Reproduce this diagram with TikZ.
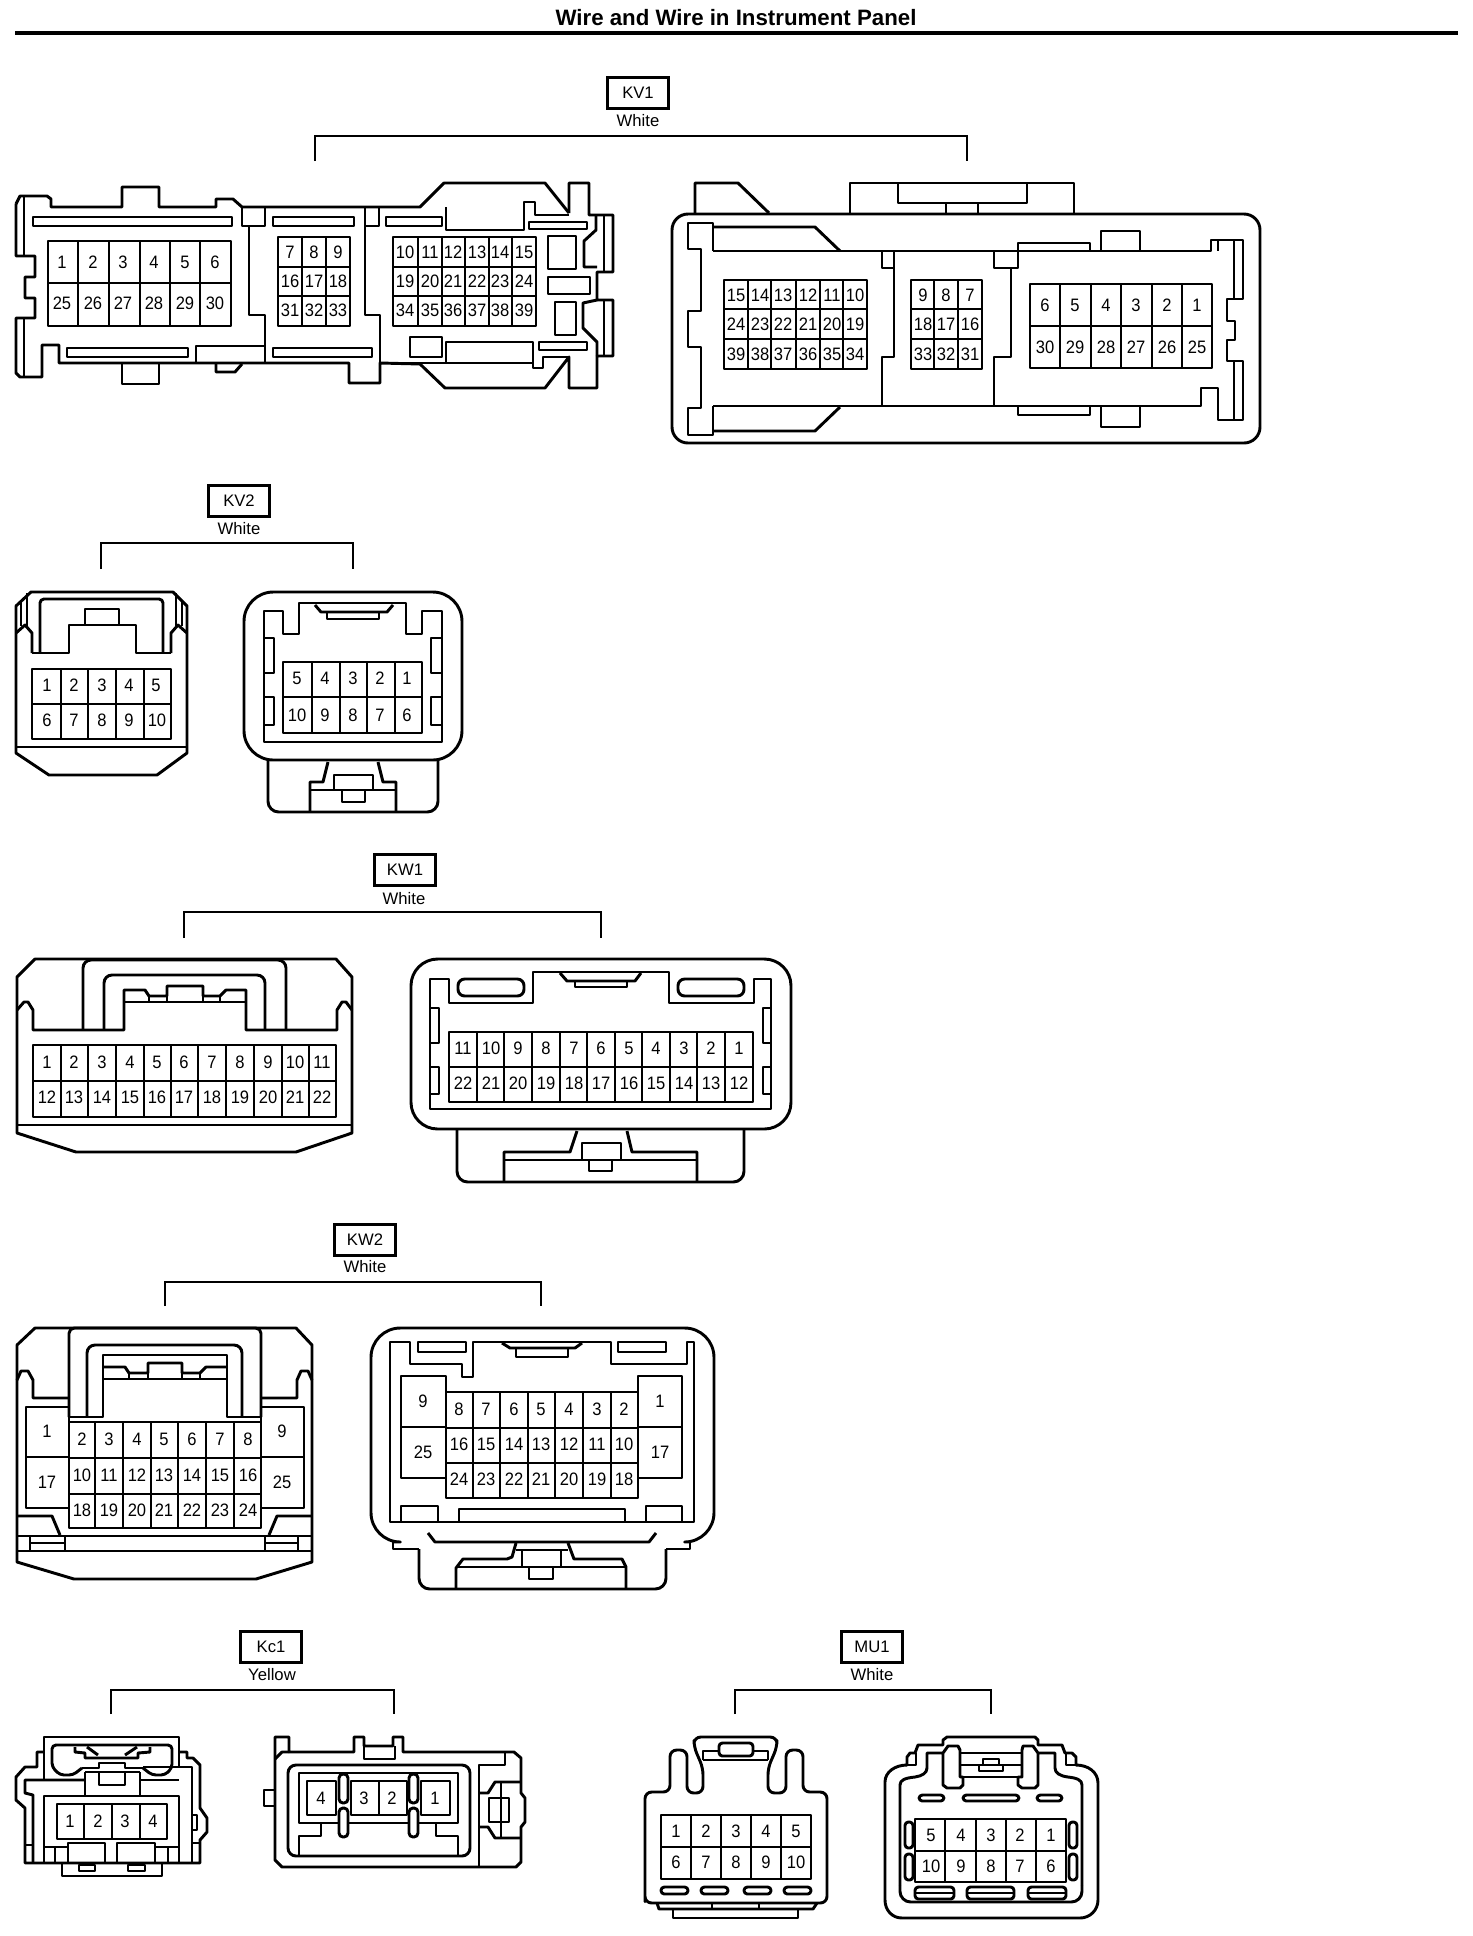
\documentclass[tikz,border=0pt]{standalone}
\usepackage{fontspec}
\setmainfont{Liberation Sans}
\newfontfamily\pinfont[FakeStretch=0.92]{Liberation Sans}
\usetikzlibrary{positioning}

\tikzset{
  body/.style={line width=2.2pt, line join=round},
  strip/.style={line width=2.2pt, line join=round, fill=white},
  slot/.style={line width=2.2pt, line join=round, fill=white, rounded corners=2.5pt},
  bracket/.style={line width=2.2pt},
  pin/.style={inner sep=0pt, font=\pinfont\fontsize{13.5}{14}\selectfont},
  tagbox/.style={draw, line width=2.2pt, minimum width=46pt, minimum height=23.5pt, inner sep=0pt, font=\fontsize{12.5}{14}\selectfont},
  colorlabel/.style={inner sep=0pt, font=\fontsize{12.5}{14}\selectfont}
}

\begin{document}
\begin{tikzpicture}[x=0.75pt, y=-0.75pt]

\useasboundingbox (0,0) rectangle (1472,1936);

% Draw the title
\node[inner sep=0pt, font=\bfseries\fontsize{16.7}{18}\selectfont] (title) at (736,18) {Wire and Wire in Instrument Panel};
\coordinate (ruleL) at (15,33);
\coordinate (ruleR) at (1458,33);
\draw[line width=3pt] (ruleL) -- (ruleR);

% Add tag of KV1
\node[tagbox] (kv1tag) at (638,93) {KV1};
\node[colorlabel] (kv1color) at (638,121) {White};
\coordinate (kv1L) at (315,161);
\coordinate (kv1R) at (967,161);
\draw[bracket] (kv1L) -- ++(0,-25) -| (kv1R);

% Draw KV1 left outline
\draw[body] (16,204) -- (20,196) -- (47,196) -- (51,199) -- (51,207) -- (122,207) -- (122,187) -- (159,187) -- (159,207) -- (216,207) -- (216,199) -- (233,199) -- (242,207) -- (420,207) -- (444,183) -- (545,183) -- (569,213);
\draw[body] (569,213) -- (569,183) -- (589,183) -- (589,215) -- (613,215) -- (613,272) -- (597,272) -- (597,300) -- (613,300) -- (613,356) -- (597,356) -- (597,388) -- (569,388) -- (569,357) -- (545,388) -- (445,388) -- (420,364) -- (380,363) -- (380,383) -- (349,383) -- (349,363) -- (59,363) -- (59,345) -- (42,345) -- (42,377) -- (20,377) -- (16,373) -- (16,318) -- (35,318) -- (35,298) -- (25,298) -- (25,277) -- (35,277) -- (35,256) -- (16,256) -- (16,204);
\draw[body] (24,197) -- (24,256) (24,318) -- (24,377);
\draw[body] (122,363) -- (122,384) -- (159,384) -- (159,363);
\draw[body] (216,363) -- (216,372) -- (235,372) -- (242,364);
\draw[body] (380,363) -- (533,363) -- (533,368) -- (543,368) -- (543,357) -- (569,357);
\draw[body] (569,215) -- (535,215) -- (535,202) -- (524,202) -- (524,230) -- (446,230) -- (446,207);
\draw[body] (446,342) rectangle (533,363);
\draw[body] (604,215) -- (604,272) (604,300) -- (604,356);
\draw[body] (596,215) -- (596,230) -- (584,241) -- (584,267) -- (597,267);
\draw[body] (597,300) -- (583,303) -- (583,328) -- (597,342) -- (597,356);

% Draw KV1 left ribs and slots
\draw[body] (242,207) -- (242,226) -- (265,226) -- (265,207);
\draw[body] (249,226) -- (249,315) -- (265,315) -- (265,363);
\draw[body] (196,362) -- (196,346) -- (265,346);
\draw[body] (365,207) -- (365,226) -- (379,226) -- (379,207);
\draw[body] (365,226) -- (365,315) -- (380,315) -- (380,363);
\draw[strip] (33,217) rectangle (232,226);
\draw[strip] (273,217) rectangle (354,226);
\draw[strip] (386,217) rectangle (442,226);
\draw[strip] (529,222) rectangle (587,229);
\draw[strip] (67,348) rectangle (188,357);
\draw[strip] (273,348) rectangle (372,357);
\draw[strip] (539,342) rectangle (587,350);
\draw[body] (548,236) rectangle (576,269);
\draw[body] (548,277) rectangle (590,294);
\draw[body] (555,302) rectangle (576,335);
\draw[body] (410,337) rectangle (442,357);

% Draw KV1 left cells
\draw[body] (48,241) rectangle (231,326);
\draw[body] (48,283) -- (231,283) (78,241) -- (78,326) (109,241) -- (109,326) (140,241) -- (140,326) (170,241) -- (170,326) (200,241) -- (200,326);
\draw[body] (278,237) rectangle (350,326);
\draw[body] (278,267) -- (350,267) (278,296) -- (350,296) (302,237) -- (302,326) (326,237) -- (326,326);
\draw[body] (393,237) rectangle (536,326);
\draw[body] (393,267) -- (536,267) (393,296) -- (536,296) (418,237) -- (418,326) (442,237) -- (442,326) (465,237) -- (465,326) (489,237) -- (489,326) (512,237) -- (512,326);

% Add labels for KV1 left
\node[pin] (a1) at (62,262) {1};
\node[pin] (a2) at (93,262) {2};
\node[pin] (a3) at (123,262) {3};
\node[pin] (a4) at (154,262) {4};
\node[pin] (a5) at (185,262) {5};
\node[pin] (a6) at (215,262) {6};
\node[pin] (a25) at (62,303) {25};
\node[pin] (a26) at (93,303) {26};
\node[pin] (a27) at (123,303) {27};
\node[pin] (a28) at (154,303) {28};
\node[pin] (a29) at (185,303) {29};
\node[pin] (a30) at (215,303) {30};
\node[pin] (a7) at (290,252) {7};
\node[pin] (a8) at (314,252) {8};
\node[pin] (a9) at (338,252) {9};
\node[pin] (a16) at (290,281) {16};
\node[pin] (a17) at (314,281) {17};
\node[pin] (a18) at (338,281) {18};
\node[pin] (a31) at (290,310) {31};
\node[pin] (a32) at (314,310) {32};
\node[pin] (a33) at (338,310) {33};
\node[pin] (a10) at (405,252) {10};
\node[pin] (a11) at (430,252) {11};
\node[pin] (a12) at (453,252) {12};
\node[pin] (a13) at (477,252) {13};
\node[pin] (a14) at (500,252) {14};
\node[pin] (a15) at (524,252) {15};
\node[pin] (a19) at (405,281) {19};
\node[pin] (a20) at (430,281) {20};
\node[pin] (a21) at (453,281) {21};
\node[pin] (a22) at (477,281) {22};
\node[pin] (a23) at (500,281) {23};
\node[pin] (a24) at (524,281) {24};
\node[pin] (a34) at (405,310) {34};
\node[pin] (a35) at (430,310) {35};
\node[pin] (a36) at (453,310) {36};
\node[pin] (a37) at (477,310) {37};
\node[pin] (a38) at (500,310) {38};
\node[pin] (a39) at (524,310) {39};

% Draw KV1 right outline
\draw[body] (672,230) arc (180:270:16) -- (1244,214) arc (270:360:16) -- (1260,427) arc (0:90:16) -- (688,443) arc (90:180:16) -- cycle;
\draw[body] (695,213) -- (695,183) -- (738,183) -- (769,213);
\draw[body] (850,213) -- (850,183) -- (1074,183) -- (1074,213);
\draw[body] (898,183) -- (898,203) -- (1027,203) -- (1027,183);
\draw[body] (946,203) -- (946,213) (978,203) -- (978,213);
\draw[body] (713,251) -- (713,223) -- (688,223) -- (688,249) -- (701,249) -- (701,311) -- (688,311) -- (688,347) -- (701,347) -- (701,408) -- (688,408) -- (688,435) -- (713,435) -- (713,406);
\draw[body] (713,227) -- (815,227) -- (840,251);
\draw[body] (713,431) -- (815,431) -- (840,407);
\draw[body] (713,251) -- (1211,251) -- (1211,240) -- (1243,240) -- (1243,299) -- (1227,299) -- (1227,321) -- (1235,321) -- (1235,340) -- (1227,340) -- (1227,361) -- (1243,361) -- (1243,420) -- (1218,420) -- (1218,388) -- (1201,388) -- (1201,406) -- (713,406);
\draw[body] (1234,240) -- (1234,299) (1234,361) -- (1234,420) (1218,240) -- (1218,251);

% Draw KV1 right ribs
\draw[body] (882,252) -- (882,268) -- (894,268) -- (894,252);
\draw[body] (894,268) -- (894,357) -- (882,357) -- (882,406);
\draw[body] (994,252) -- (994,268) -- (1018,268) -- (1018,243) -- (1090,243) -- (1090,251);
\draw[body] (1011,268) -- (1011,357) -- (994,357) -- (994,406);
\draw[body] (1101,251) -- (1101,231) -- (1140,231) -- (1140,251);
\draw[body] (1018,407) -- (1018,415) -- (1090,415) -- (1090,407);
\draw[body] (1101,407) -- (1101,427) -- (1140,427) -- (1140,407);

% Draw KV1 right cells
\draw[body] (724,280) rectangle (867,369);
\draw[body] (724,309) -- (867,309) (724,339) -- (867,339) (748,280) -- (748,369) (771,280) -- (771,369) (796,280) -- (796,369) (820,280) -- (820,369) (843,280) -- (843,369);
\draw[body] (911,280) rectangle (982,369);
\draw[body] (911,309) -- (982,309) (911,339) -- (982,339) (934,280) -- (934,369) (958,280) -- (958,369);
\draw[body] (1030,284) rectangle (1212,368);
\draw[body] (1030,326) -- (1212,326) (1060,284) -- (1060,368) (1091,284) -- (1091,368) (1121,284) -- (1121,368) (1152,284) -- (1152,368) (1182,284) -- (1182,368);

% Add labels for KV1 right
\node[pin] (b15) at (736,295) {15};
\node[pin] (b14) at (760,295) {14};
\node[pin] (b13) at (783,295) {13};
\node[pin] (b12) at (808,295) {12};
\node[pin] (b11) at (832,295) {11};
\node[pin] (b10) at (855,295) {10};
\node[pin] (b24) at (736,324) {24};
\node[pin] (b23) at (760,324) {23};
\node[pin] (b22) at (783,324) {22};
\node[pin] (b21) at (808,324) {21};
\node[pin] (b20) at (832,324) {20};
\node[pin] (b19) at (855,324) {19};
\node[pin] (b39) at (736,354) {39};
\node[pin] (b38) at (760,354) {38};
\node[pin] (b37) at (783,354) {37};
\node[pin] (b36) at (808,354) {36};
\node[pin] (b35) at (832,354) {35};
\node[pin] (b34) at (855,354) {34};
\node[pin] (b9) at (923,295) {9};
\node[pin] (b8) at (946,295) {8};
\node[pin] (b7) at (970,295) {7};
\node[pin] (b18) at (923,324) {18};
\node[pin] (b17) at (946,324) {17};
\node[pin] (b16) at (970,324) {16};
\node[pin] (b33) at (923,354) {33};
\node[pin] (b32) at (946,354) {32};
\node[pin] (b31) at (970,354) {31};
\node[pin] (b6) at (1045,305) {6};
\node[pin] (b5) at (1075,305) {5};
\node[pin] (b4) at (1106,305) {4};
\node[pin] (b3) at (1136,305) {3};
\node[pin] (b2) at (1167,305) {2};
\node[pin] (b1) at (1197,305) {1};
\node[pin] (b30) at (1045,347) {30};
\node[pin] (b29) at (1075,347) {29};
\node[pin] (b28) at (1106,347) {28};
\node[pin] (b27) at (1136,347) {27};
\node[pin] (b26) at (1167,347) {26};
\node[pin] (b25) at (1197,347) {25};

% Add tag of KV2
\node[tagbox] (kv2tag) at (239,501) {KV2};
\node[colorlabel] (kv2color) at (239,529) {White};
\coordinate (kv2L) at (101,569);
\coordinate (kv2R) at (353,569);
\draw[bracket] (kv2L) -- ++(0,-26) -| (kv2R);

% Draw KV2 left
\draw[body] (16,606) -- (31,592) -- (173,592) -- (187,606) -- (187,753) -- (157,775) -- (49,775) -- (16,753) -- cycle;
\draw[body] (16,747) -- (187,747);
\draw[body] (32,653) -- (69,653) -- (69,625) -- (136,625) -- (136,653) -- (171,653);
\draw[body] (85,625) -- (85,609) -- (119,609) -- (119,625);
\draw[body, rounded corners=3pt] (40,653) -- (40,599) -- (163,599) -- (163,653);
\draw[body] (32,653) -- (32,633) -- (25,625) -- (16,633);
\draw[body] (171,653) -- (171,633) -- (178,625) -- (187,633);
\draw[body] (27,593) -- (27,627) (21,600) -- (21,626) (176,593) -- (176,627) (182,600) -- (182,626);
\draw[body] (32,669) rectangle (171,739);
\draw[body] (32,704) -- (171,704) (61,669) -- (61,739) (88,669) -- (88,739) (116,669) -- (116,739) (144,669) -- (144,739);

% Add labels for KV2 left
\node[pin] (c1) at (47,685) {1};
\node[pin] (c2) at (74,685) {2};
\node[pin] (c3) at (102,685) {3};
\node[pin] (c4) at (129,685) {4};
\node[pin] (c5) at (156,685) {5};
\node[pin] (c6) at (47,720) {6};
\node[pin] (c7) at (74,720) {7};
\node[pin] (c8) at (102,720) {8};
\node[pin] (c9) at (129,720) {9};
\node[pin] (c10) at (157,720) {10};

% Draw KV2 right
\draw[body, rounded corners=22pt] (244,592) rectangle (462,760);
\draw[body] (264,742) -- (264,611) -- (283,611) -- (283,634) -- (299,634) -- (299,603) -- (406,603) -- (406,634) -- (422,634) -- (422,611) -- (442,611) -- (442,742) -- cycle;
\draw[body] (315,605) -- (321,612) -- (387,612) -- (393,605);
\draw[body] (327,612) -- (327,619) -- (379,619) -- (379,612);
\draw[body] (264,638) -- (274,638) -- (274,673) -- (264,673);
\draw[body] (264,697) -- (274,697) -- (274,725) -- (264,725);
\draw[body] (442,638) -- (431,638) -- (431,673) -- (442,673);
\draw[body] (442,697) -- (431,697) -- (431,725) -- (442,725);
\draw[body] (283,662) rectangle (422,733);
\draw[body] (283,697) -- (422,697) (312,662) -- (312,733) (340,662) -- (340,733) (367,662) -- (367,733) (395,662) -- (395,733);
\draw[body, rounded corners=8pt] (268,760) -- (268,812) -- (438,812) -- (438,760);
\draw[body] (328,762) -- (323,782) -- (310,782) -- (310,812);
\draw[body] (378,762) -- (383,782) -- (396,782) -- (396,812);
\draw[body] (310,790) -- (396,790);
\draw[body] (334,775) rectangle (373,790);
\draw[body] (342,790) rectangle (365,802);

% Add labels for KV2 right
\node[pin] (d5) at (297,678) {5};
\node[pin] (d4) at (325,678) {4};
\node[pin] (d3) at (353,678) {3};
\node[pin] (d2) at (380,678) {2};
\node[pin] (d1) at (407,678) {1};
\node[pin] (d10) at (297,715) {10};
\node[pin] (d9) at (325,715) {9};
\node[pin] (d8) at (353,715) {8};
\node[pin] (d7) at (380,715) {7};
\node[pin] (d6) at (407,715) {6};

% Add tag of KW1
\node[tagbox] (kw1tag) at (405,870) {KW1};
\node[colorlabel] (kw1color) at (404,899) {White};
\coordinate (kw1L) at (184,938);
\coordinate (kw1R) at (601,938);
\draw[bracket] (kw1L) -- ++(0,-26) -| (kw1R);

% Draw KW1 left
\draw[body] (17,977) -- (35,959) -- (336,959) -- (352,977) -- (352,1133) -- (296,1152) -- (76,1152) -- (17,1133) -- cycle;
\draw[body] (17,1125) -- (352,1125);
\draw[body] (17,1010) -- (24,1002) -- (28,1002) -- (33,1010) -- (33,1030) -- (124,1030) -- (124,990) -- (145,990) -- (149,996) -- (167,996) -- (167,986) -- (203,986) -- (203,996) -- (220,996) -- (226,990) -- (246,990) -- (246,1030) -- (337,1030) -- (337,1010) -- (342,1002) -- (346,1002) -- (352,1010);
\draw[body] (124,1002) -- (246,1002) (149,996) -- (149,1002) (167,996) -- (167,1002) (203,996) -- (203,1002) (220,996) -- (220,1002);
\draw[body, rounded corners=6pt] (104,1030) -- (104,975) -- (265,975) -- (265,1030);
\draw[body, rounded corners=6pt] (83,1030) -- (83,960) -- (286,960) -- (286,1030);
\draw[body] (33,1045) rectangle (336,1117);
\draw[body] (33,1081) -- (336,1081) (61,1045) -- (61,1117) (88,1045) -- (88,1117) (116,1045) -- (116,1117) (144,1045) -- (144,1117) (171,1045) -- (171,1117) (198,1045) -- (198,1117) (226,1045) -- (226,1117) (254,1045) -- (254,1117) (282,1045) -- (282,1117) (309,1045) -- (309,1117);

% Add labels for KW1 left
\node[pin] (e1) at (47,1062) {1};
\node[pin] (e2) at (74,1062) {2};
\node[pin] (e3) at (102,1062) {3};
\node[pin] (e4) at (130,1062) {4};
\node[pin] (e5) at (157,1062) {5};
\node[pin] (e6) at (184,1062) {6};
\node[pin] (e7) at (212,1062) {7};
\node[pin] (e8) at (240,1062) {8};
\node[pin] (e9) at (268,1062) {9};
\node[pin] (e10) at (295,1062) {10};
\node[pin] (e11) at (322,1062) {11};
\node[pin] (e12) at (47,1097) {12};
\node[pin] (e13) at (74,1097) {13};
\node[pin] (e14) at (102,1097) {14};
\node[pin] (e15) at (130,1097) {15};
\node[pin] (e16) at (157,1097) {16};
\node[pin] (e17) at (184,1097) {17};
\node[pin] (e18) at (212,1097) {18};
\node[pin] (e19) at (240,1097) {19};
\node[pin] (e20) at (268,1097) {20};
\node[pin] (e21) at (295,1097) {21};
\node[pin] (e22) at (322,1097) {22};

% Draw KW1 right
\draw[body, rounded corners=20pt] (411,959) rectangle (791,1129);
\draw[body] (430,1109) -- (430,979) -- (449,979) -- (449,1003) -- (533,1003) -- (533,972) -- (669,972) -- (669,1003) -- (754,1003) -- (754,979) -- (771,979) -- (771,1109) -- cycle;
\draw[slot, rounded corners=5pt] (458,979) rectangle (524,996);
\draw[slot, rounded corners=5pt] (678,979) rectangle (744,996);
\draw[body] (560,973) -- (567,981) -- (635,981) -- (641,973);
\draw[body] (575,981) -- (575,987) -- (627,987) -- (627,981);
\draw[body] (430,1008) -- (439,1008) -- (439,1043) -- (430,1043);
\draw[body] (430,1067) -- (439,1067) -- (439,1094) -- (430,1094);
\draw[body] (771,1008) -- (763,1008) -- (763,1043) -- (771,1043);
\draw[body] (771,1067) -- (763,1067) -- (763,1094) -- (771,1094);
\draw[body] (449,1032) rectangle (753,1102);
\draw[body] (449,1067) -- (753,1067) (477,1032) -- (477,1102) (504,1032) -- (504,1102) (532,1032) -- (532,1102) (560,1032) -- (560,1102) (587,1032) -- (587,1102) (615,1032) -- (615,1102) (642,1032) -- (642,1102) (670,1032) -- (670,1102) (697,1032) -- (697,1102) (725,1032) -- (725,1102);
\draw[body, rounded corners=8pt] (457,1130) -- (457,1182) -- (744,1182) -- (744,1130);
\draw[body] (577,1131) -- (570,1152) -- (504,1152) -- (504,1182);
\draw[body] (627,1131) -- (632,1152) -- (697,1152) -- (697,1182);
\draw[body] (504,1160) -- (697,1160);
\draw[body] (582,1143) rectangle (621,1160);
\draw[body] (589,1160) rectangle (612,1171);

% Add labels for KW1 right
\node[pin] (f11) at (463,1048) {11};
\node[pin] (f10) at (491,1048) {10};
\node[pin] (f9) at (518,1048) {9};
\node[pin] (f8) at (546,1048) {8};
\node[pin] (f7) at (574,1048) {7};
\node[pin] (f6) at (601,1048) {6};
\node[pin] (f5) at (629,1048) {5};
\node[pin] (f4) at (656,1048) {4};
\node[pin] (f3) at (684,1048) {3};
\node[pin] (f2) at (711,1048) {2};
\node[pin] (f1) at (739,1048) {1};
\node[pin] (f22) at (463,1083) {22};
\node[pin] (f21) at (491,1083) {21};
\node[pin] (f20) at (518,1083) {20};
\node[pin] (f19) at (546,1083) {19};
\node[pin] (f18) at (574,1083) {18};
\node[pin] (f17) at (601,1083) {17};
\node[pin] (f16) at (629,1083) {16};
\node[pin] (f15) at (656,1083) {15};
\node[pin] (f14) at (684,1083) {14};
\node[pin] (f13) at (711,1083) {13};
\node[pin] (f12) at (739,1083) {12};

% Add tag of KW2
\node[tagbox] (kw2tag) at (365,1240) {KW2};
\node[colorlabel] (kw2color) at (365,1267) {White};
\coordinate (kw2L) at (165,1306);
\coordinate (kw2R) at (541,1306);
\draw[bracket] (kw2L) -- ++(0,-24) -| (kw2R);

% Draw KW2 left
\draw[body] (17,1345) -- (35,1328) -- (296,1328) -- (312,1345) -- (312,1562) -- (256,1579) -- (74,1579) -- (17,1562) -- cycle;
\draw[body] (17,1551) -- (312,1551) (17,1536) -- (312,1536);
\draw[body] (30,1536) -- (30,1551) (65,1536) -- (65,1551) (30,1543) -- (65,1543);
\draw[body] (265,1536) -- (265,1551) (298,1536) -- (298,1551) (265,1543) -- (298,1543);
\draw[body] (17,1516) -- (52,1516) -- (60,1535);
\draw[body] (312,1516) -- (277,1516) -- (269,1535);
\draw[body] (17,1380) -- (21,1371) -- (28,1371) -- (33,1380) -- (33,1398) -- (69,1398);
\draw[body] (312,1380) -- (308,1371) -- (301,1371) -- (297,1380) -- (297,1398) -- (261,1398);
\draw[body, rounded corners=4pt] (69,1417) -- (69,1328) -- (261,1328) -- (261,1417);
\draw[body] (69,1417) -- (103,1417) -- (103,1355) -- (227,1355) -- (227,1417) -- (261,1417);
\draw[body, rounded corners=6pt] (87,1417) -- (87,1345) -- (242,1345) -- (242,1417);
\draw[body] (103,1367) -- (125,1367) -- (129,1373) -- (148,1373) -- (148,1363) -- (182,1363) -- (182,1373) -- (200,1373) -- (206,1367) -- (227,1367);
\draw[body] (103,1379) -- (227,1379) (129,1373) -- (129,1379) (148,1373) -- (148,1379) (182,1373) -- (182,1379) (200,1373) -- (200,1379);
\draw[body] (26,1407) rectangle (69,1508);
\draw[body] (26,1457) -- (69,1457);
\draw[body] (261,1407) rectangle (304,1508);
\draw[body] (261,1457) -- (304,1457);
\draw[body] (69,1422) rectangle (261,1528);
\draw[body] (69,1458) -- (261,1458) (69,1494) -- (261,1494) (95,1422) -- (95,1528) (123,1422) -- (123,1528) (151,1422) -- (151,1528) (178,1422) -- (178,1528) (206,1422) -- (206,1528) (234,1422) -- (234,1528);

% Add labels for KW2 left
\node[pin] (g1) at (47,1431) {1};
\node[pin] (g17) at (47,1482) {17};
\node[pin] (g2) at (82,1439) {2};
\node[pin] (g3) at (109,1439) {3};
\node[pin] (g4) at (137,1439) {4};
\node[pin] (g5) at (164,1439) {5};
\node[pin] (g6) at (192,1439) {6};
\node[pin] (g7) at (220,1439) {7};
\node[pin] (g8) at (248,1439) {8};
\node[pin] (g10) at (82,1475) {10};
\node[pin] (g11) at (109,1475) {11};
\node[pin] (g12) at (137,1475) {12};
\node[pin] (g13) at (164,1475) {13};
\node[pin] (g14) at (192,1475) {14};
\node[pin] (g15) at (220,1475) {15};
\node[pin] (g16) at (248,1475) {16};
\node[pin] (g18) at (82,1510) {18};
\node[pin] (g19) at (109,1510) {19};
\node[pin] (g20) at (137,1510) {20};
\node[pin] (g21) at (164,1510) {21};
\node[pin] (g22) at (192,1510) {22};
\node[pin] (g23) at (220,1510) {23};
\node[pin] (g24) at (248,1510) {24};
\node[pin] (g9) at (282,1431) {9};
\node[pin] (g25) at (282,1482) {25};

% Draw KW2 right
\draw[body] (393,1542) -- (393,1549) -- (419,1549);
\draw[body, rounded corners=22pt] (393,1542) -- (371,1542) -- (371,1328) -- (714,1328) -- (714,1542) -- (690,1542);
\draw[body] (690,1542) -- (690,1549) -- (666,1549);
\draw[body, rounded corners=8pt] (419,1549) -- (419,1589) -- (666,1589) -- (666,1549);
\draw[body] (390,1522) -- (390,1342) -- (410,1342) -- (410,1364) -- (462,1364) -- (462,1377) -- (473,1377) -- (473,1342) -- (611,1342) -- (611,1364) -- (687,1364) -- (687,1342) -- (694,1342) -- (694,1522) -- cycle;
\draw[body] (418,1342) rectangle (466,1352);
\draw[body] (618,1342) rectangle (666,1352);
\draw[body] (502,1343) -- (510,1348) -- (575,1348) -- (582,1343);
\draw[body] (516,1348) -- (516,1357) -- (568,1357) -- (568,1348);
\draw[body] (401,1376) rectangle (446,1478);
\draw[body] (401,1427) -- (446,1427);
\draw[body] (638,1376) rectangle (682,1478);
\draw[body] (638,1427) -- (682,1427);
\draw[body] (446,1392) rectangle (638,1498);
\draw[body] (446,1428) -- (638,1428) (446,1463) -- (638,1463) (473,1392) -- (473,1498) (500,1392) -- (500,1498) (528,1392) -- (528,1498) (555,1392) -- (555,1498) (583,1392) -- (583,1498) (611,1392) -- (611,1498);
\draw[body] (401,1506) rectangle (438,1522);
\draw[body] (459,1509) rectangle (625,1522);
\draw[body] (646,1506) rectangle (682,1522);
\draw[body] (428,1533) -- (435,1542) -- (649,1542) -- (656,1533);
\draw[body] (516,1543) -- (512,1557) -- (507,1559) -- (463,1559) -- (456,1568) -- (456,1589);
\draw[body] (568,1543) -- (574,1559) -- (622,1559) -- (626,1567) -- (626,1589);
\draw[body] (456,1567) -- (626,1567);
\draw[body] (522,1550) rectangle (561,1567);
\draw[body] (529,1567) rectangle (553,1579);
\draw[body] (516,1550) -- (568,1550);

% Add labels for KW2 right
\node[pin] (h9) at (423,1401) {9};
\node[pin] (h25) at (423,1452) {25};
\node[pin] (h8) at (459,1409) {8};
\node[pin] (h7) at (486,1409) {7};
\node[pin] (h6) at (514,1409) {6};
\node[pin] (h5) at (541,1409) {5};
\node[pin] (h4) at (569,1409) {4};
\node[pin] (h3) at (597,1409) {3};
\node[pin] (h2) at (624,1409) {2};
\node[pin] (h16) at (459,1444) {16};
\node[pin] (h15) at (486,1444) {15};
\node[pin] (h14) at (514,1444) {14};
\node[pin] (h13) at (541,1444) {13};
\node[pin] (h12) at (569,1444) {12};
\node[pin] (h11) at (597,1444) {11};
\node[pin] (h10) at (624,1444) {10};
\node[pin] (h24) at (459,1479) {24};
\node[pin] (h23) at (486,1479) {23};
\node[pin] (h22) at (514,1479) {22};
\node[pin] (h21) at (541,1479) {21};
\node[pin] (h20) at (569,1479) {20};
\node[pin] (h19) at (597,1479) {19};
\node[pin] (h18) at (624,1479) {18};
\node[pin] (h1) at (660,1401) {1};
\node[pin] (h17) at (660,1452) {17};

% Add tag of Kc1
\node[tagbox] (kc1tag) at (271,1647) {Kc1};
\node[colorlabel] (kc1color) at (272,1675) {Yellow};
\coordinate (kc1L) at (111,1714);
\coordinate (kc1R) at (394,1714);
\draw[bracket] (kc1L) -- ++(0,-24) -| (kc1R);

% Draw Kc1 left
\draw[body] (44,1780) -- (44,1737) -- (179,1737) -- (179,1767);
\draw[body] (44,1752) -- (37,1752) -- (37,1767) -- (25,1767) -- (16,1777) -- (16,1800) -- (25,1808) -- (25,1863) -- (200,1863) -- (200,1840) -- (207,1832) -- (207,1818) -- (200,1808) -- (200,1765) -- (193,1758) -- (187,1758) -- (187,1752) -- (179,1752);
\draw[body] (85,1780) -- (25,1780) -- (25,1793) -- (33,1795) -- (33,1863);
\draw[body] (143,1767) -- (192,1767) -- (192,1863) (140,1780) -- (179,1780);
\draw[body] (44,1863) -- (44,1796) -- (179,1796) -- (179,1863);
\draw[body] (85,1772) -- (85,1796) (140,1772) -- (140,1796) (85,1772) -- (140,1772);
\draw[body] (99,1772) -- (99,1785) -- (125,1785) -- (125,1772);
\draw[body] (82,1768) -- (99,1768) -- (99,1763) -- (125,1763) -- (125,1768) -- (143,1768);
\draw[body, rounded corners=3pt] (82,1768) -- (73,1775) -- (60,1775) -- (52,1767) -- (52,1745) -- (172,1745) -- (172,1768) -- (165,1775) -- (152,1775) -- (143,1768);
\draw[body] (75,1747) -- (75,1752) -- (85,1753) -- (85,1758) -- (138,1758) -- (138,1753) -- (150,1752) -- (150,1747);
\draw[body] (98,1755) -- (87,1747) (125,1755) -- (137,1747);
\draw[body] (57,1804) rectangle (167,1839);
\draw[body] (84,1804) -- (84,1839) (112,1804) -- (112,1839) (140,1804) -- (140,1839);
\draw[body] (44,1847) -- (68,1847) (155,1847) -- (179,1847) (55,1847) -- (55,1863) (168,1847) -- (168,1863);
\draw[body] (68,1843) rectangle (105,1863);
\draw[body] (117,1843) rectangle (155,1863);
\draw[body] (25,1845) -- (33,1845) (192,1843) -- (200,1843);
\draw[body] (192,1815) -- (197,1815) -- (197,1830) -- (192,1830);
\draw[body] (62,1863) -- (62,1876) -- (162,1876) -- (162,1863);
\draw[body] (79,1865) rectangle (95,1871);
\draw[body] (128,1865) rectangle (145,1871);

% Add labels for Kc1 left
\node[pin] (i1) at (70,1821) {1};
\node[pin] (i2) at (98,1821) {2};
\node[pin] (i3) at (125,1821) {3};
\node[pin] (i4) at (153,1821) {4};

% Draw Kc1 right
\draw[body] (282,1867) -- (275,1860) -- (275,1737) -- (289,1737) -- (289,1752) -- (354,1752) -- (354,1737) -- (364,1737) -- (364,1746) -- (393,1746) -- (393,1737) -- (403,1737) -- (403,1752) -- (514,1752) -- (521,1758) -- (521,1793) -- (525,1798) -- (525,1822) -- (521,1827) -- (521,1862) -- (516,1867) -- cycle;
\draw[body] (275,1759) -- (282,1752) -- (289,1752);
\draw[body] (275,1790) -- (264,1790) -- (264,1806) -- (275,1806);
\draw[body] (364,1746) -- (364,1759) -- (395,1759) -- (395,1746);
\draw[body, rounded corners=6pt] (288,1765) rectangle (470,1856);
\draw[body] (299,1855) -- (299,1836) -- (321,1836) -- (321,1823) -- (299,1823) -- (299,1773) -- (458,1773) -- (458,1823) -- (436,1823) -- (436,1836) -- (458,1836) -- (458,1855);
\draw[body] (321,1823) -- (436,1823);
\draw[slot, rounded corners=3pt] (339,1774) rectangle (348,1803);
\draw[slot, rounded corners=3pt] (409,1774) rectangle (418,1803);
\draw[slot, rounded corners=3pt] (339,1808) rectangle (348,1837);
\draw[slot, rounded corners=3pt] (409,1808) rectangle (418,1837);
\draw[body] (307,1781) rectangle (336,1815);
\draw[body] (351,1781) rectangle (407,1815);
\draw[body] (379,1781) -- (379,1815);
\draw[body] (421,1781) rectangle (450,1815);
\draw[body] (479,1867) -- (479,1765) -- (505,1765) -- (505,1752);
\draw[body] (479,1793) -- (488,1793) -- (495,1782) -- (521,1782);
\draw[body] (479,1827) -- (488,1827) -- (495,1838) -- (521,1838);
\draw[body] (501,1782) -- (501,1838);
\draw[body] (489,1798) rectangle (509,1822);

% Add labels for Kc1 right
\node[pin] (j4) at (321,1798) {4};
\node[pin] (j3) at (364,1798) {3};
\node[pin] (j2) at (392,1798) {2};
\node[pin] (j1) at (435,1798) {1};

% Add tag of MU1
\node[tagbox] (mu1tag) at (872,1647) {MU1};
\node[colorlabel] (mu1color) at (872,1675) {White};
\coordinate (mu1L) at (735,1714);
\coordinate (mu1R) at (991,1714);
\draw[bracket] (mu1L) -- ++(0,-24) -| (mu1R);

% Draw MU1 left
\draw[body, rounded corners=5pt] (645,1895) -- (645,1792) -- (670,1792) -- (670,1750) -- (687,1750) -- (687,1793) -- (703,1793) -- (703,1768) -- (694,1747) -- (694,1737) -- (777,1737) -- (777,1747) -- (768,1768) -- (768,1793) -- (786,1793) -- (786,1750) -- (803,1750) -- (803,1792) -- (827,1792) -- (827,1903) -- (645,1903) -- cycle;
\draw[body] (703,1760) -- (768,1760) (703,1760) -- (703,1751) -- (768,1751) -- (768,1760);
\draw[slot] (719,1743) rectangle (753,1756);
\draw[body] (657,1903) -- (659,1909) -- (813,1909) -- (817,1903);
\draw[body] (712,1903) -- (712,1909) (759,1903) -- (759,1909);
\draw[body] (673,1910) -- (673,1918) -- (798,1918) -- (798,1910);
\draw[body] (661,1815) rectangle (811,1879);
\draw[body] (661,1847) -- (811,1847) (691,1815) -- (691,1879) (721,1815) -- (721,1879) (751,1815) -- (751,1879) (781,1815) -- (781,1879);
\draw[slot] (661,1887) rectangle (688,1894);
\draw[slot] (701,1887) rectangle (728,1894);
\draw[slot] (744,1887) rectangle (771,1894);
\draw[slot] (784,1887) rectangle (811,1894);

% Add labels for MU1 left
\node[pin] (k1) at (676,1831) {1};
\node[pin] (k2) at (706,1831) {2};
\node[pin] (k3) at (736,1831) {3};
\node[pin] (k4) at (766,1831) {4};
\node[pin] (k5) at (796,1831) {5};
\node[pin] (k6) at (676,1862) {6};
\node[pin] (k7) at (706,1862) {7};
\node[pin] (k8) at (736,1862) {8};
\node[pin] (k9) at (766,1862) {9};
\node[pin] (k10) at (796,1862) {10};

% Draw MU1 right
\draw[body] (885,1900) -- (885,1782) .. controls (885,1772) and (895,1765) .. (907,1765) -- (907,1757) -- (910,1753) -- (915,1753) -- (918,1745) -- (943,1745) -- (943,1740) -- (947,1737) -- (1035,1737) -- (1038,1740) -- (1038,1745) -- (1062,1745) -- (1065,1753) -- (1072,1753) -- (1076,1757) -- (1076,1765) .. controls (1088,1765) and (1098,1772) .. (1098,1783) -- (1098,1900) .. controls (1098,1910) and (1090,1918) .. (1080,1918) -- (902,1918) .. controls (892,1918) and (885,1910) .. (885,1900) -- cycle;
\draw[body] (900,1885) -- (900,1785) .. controls (900,1780) and (905,1778) .. (915,1777) .. controls (922,1776) and (927,1773) .. (927,1768) -- (927,1753) -- (943,1753) -- (943,1785) -- (947,1788) -- (960,1788) -- (963,1785) -- (963,1777) -- (960,1777) -- (960,1750) -- (958,1746) -- (948,1746) -- (943,1753);
\draw[body] (1082,1885) -- (1082,1785) .. controls (1082,1780) and (1077,1778) .. (1068,1777) .. controls (1060,1776) and (1055,1773) .. (1055,1768) -- (1055,1753) -- (1038,1753) -- (1038,1785) -- (1035,1788) -- (1022,1788) -- (1018,1785) -- (1018,1777) -- (1022,1777) -- (1022,1750) -- (1023,1746) -- (1033,1746) -- (1038,1753);
\draw[body, rounded corners=8pt] (900,1885) -- (900,1902) -- (1082,1902) -- (1082,1885);
\draw[body] (907,1765) -- (916,1765) -- (916,1753) (1076,1765) -- (1066,1765) -- (1066,1753);
\draw[body] (960,1753) -- (1022,1753) (960,1765) -- (983,1765) (999,1765) -- (1022,1765) (960,1777) -- (1022,1777);
\draw[body] (983,1765) -- (983,1759) -- (999,1759) -- (999,1765);
\draw[body] (979,1765) rectangle (1003,1771);
\draw[slot] (919,1795) rectangle (944,1801);
\draw[slot] (963,1795) rectangle (1019,1801);
\draw[slot] (1037,1795) rectangle (1062,1801);
\draw[slot] (905,1822) rectangle (913,1848);
\draw[slot] (905,1854) rectangle (913,1880);
\draw[slot] (1069,1822) rectangle (1077,1848);
\draw[slot] (1069,1854) rectangle (1077,1880);
\draw[body] (915,1819) rectangle (1066,1882);
\draw[body] (915,1851) -- (1066,1851) (945,1819) -- (945,1882) (976,1819) -- (976,1882) (1006,1819) -- (1006,1882) (1036,1819) -- (1036,1882);
\draw[slot] (915,1887) rectangle (954,1899);
\draw[slot] (967,1887) rectangle (1014,1899);
\draw[slot] (1028,1887) rectangle (1066,1899);
\draw[body] (915,1893) -- (954,1893) (967,1893) -- (1014,1893) (1028,1893) -- (1066,1893);

% Add labels for MU1 right
\node[pin] (l5) at (931,1835) {5};
\node[pin] (l4) at (961,1835) {4};
\node[pin] (l3) at (991,1835) {3};
\node[pin] (l2) at (1020,1835) {2};
\node[pin] (l1) at (1051,1835) {1};
\node[pin] (l10) at (931,1866) {10};
\node[pin] (l9) at (961,1866) {9};
\node[pin] (l8) at (991,1866) {8};
\node[pin] (l7) at (1020,1866) {7};
\node[pin] (l6) at (1051,1866) {6};

\end{tikzpicture}
\end{document}
